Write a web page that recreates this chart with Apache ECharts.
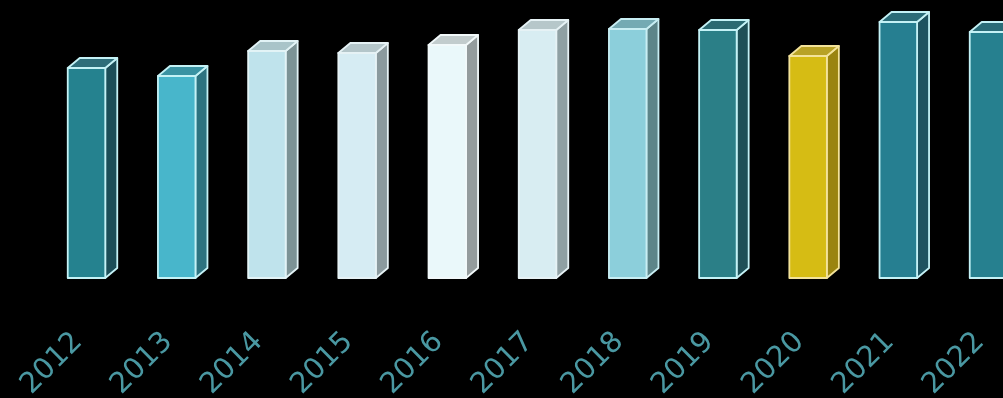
<!DOCTYPE html>
<html>
<head>
<meta charset="utf-8">
<style>
  html, body { margin: 0; padding: 0; background: #000; }
  #chart { width: 1003px; height: 398px; }
</style>
<script src="https://cdn.jsdelivr.net/npm/echarts@6/dist/echarts.min.js"></script>
</head>
<body>
<div id="chart"></div>
<script>
// ---- data ----
const years = ['2012','2013','2014','2015','2016','2017','2018','2019','2020','2021','2022'];
const values = [210, 202, 227, 225, 233, 248, 249, 248, 222, 256, 246];

// ---- styles (per bar: front, side, top, outline) ----
const frontColors = ['#25828f','#48b6cb','#bfe3ec','#d6ecf3','#eaf8fa','#d8edf2','#8ccfdb','#2b7f87','#d6bc14','#267f91','#26808f'];
const sideColors  = ['#1c4e58','#2d7380','#7c9396','#8b9a9e','#949c9d','#8fa0a3','#5d8589','#1f5057','#9a8410','#1e5360','#1e5360'];
const topColors   = ['#2d6e7a','#3a93a3','#a9c4c9','#b4c6ca','#c2cccd','#b6c7ca','#74aab3','#2a6a72','#b8a226','#2a6c78','#2a6c78'];
const edgeColors  = ['#c4f2f6','#c4f2f6','#e2f3f6','#e6f2f5','#f2f9fa','#e6f2f5','#c8eef3','#c4f2f6','#f3e39a','#c4f2f6','#c4f2f6'];

const chart = echarts.init(document.getElementById('chart'), null, { renderer: 'canvas' });

const DX = 12, DY = 10, WFRAC = 0.416;

function renderItem(params, api) {
  const i = api.value(0);
  const v = api.value(1);
  const top = api.coord([i, v]);
  const base = api.coord([i, 0]);
  const band = api.size([1, 0])[0];
  const w = band * WFRAC;
  const x0 = top[0] - w / 2, x1 = top[0] + w / 2;
  const yT = top[1], yB = base[1];
  const edge = { stroke: edgeColors[i], lineWidth: 1.8, lineJoin: 'round' };
  return {
    type: 'group',
    children: [
      {
        type: 'polygon',
        shape: { points: [[x1, yT], [x1 + DX, yT - DY], [x1 + DX, yB - DY], [x1, yB]] },
        style: Object.assign({ fill: sideColors[i] }, edge)
      },
      {
        type: 'polygon',
        shape: { points: [[x0, yT], [x0 + DX, yT - DY], [x1 + DX, yT - DY], [x1, yT]] },
        style: Object.assign({ fill: topColors[i] }, edge)
      },
      {
        type: 'rect',
        shape: { x: x0, y: yT, width: w, height: yB - yT },
        style: Object.assign({ fill: frontColors[i] }, edge)
      }
    ]
  };
}

chart.setOption({
  backgroundColor: '#000000',
  animation: false,
  grid: {
    left: 41.4, width: 992.2, top: 10, height: 268,
    containLabel: false,
    outerBoundsMode: 'none'
  },
  xAxis: {
    type: 'category',
    data: years,
    axisLine: { show: false },
    axisTick: { show: false },
    splitLine: { show: false },
    axisLabel: {
      interval: 0,
      rotate: 45,
      margin: 51,
      padding: [0, 12, 0, 0],
      hideOverlap: false,
      color: '#4a98a2',
      fontFamily: 'DejaVu Sans',
      fontSize: 29
    }
  },
  yAxis: {
    type: 'value',
    min: 0,
    max: 268,
    show: false,
    splitLine: { show: false }
  },
  series: [{
    type: 'custom',
    renderItem: renderItem,
    encode: { x: 0, y: 1 },
    data: values.map((v, i) => [i, v]),
    clip: false
  }]
});
</script>
</body>
</html>
